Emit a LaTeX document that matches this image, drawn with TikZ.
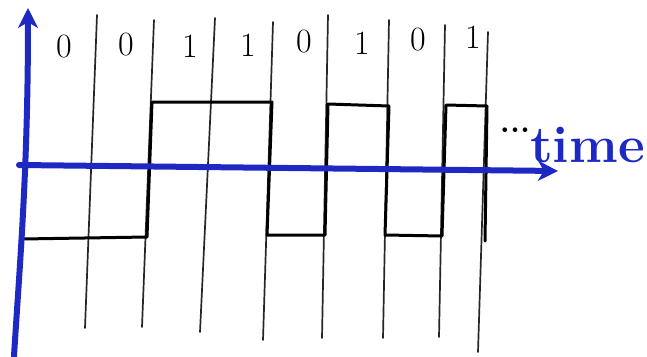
\documentclass[tikz,border=0pt]{standalone}
\usetikzlibrary{arrows.meta}
\definecolor{pen}{RGB}{30,40,195}
\begin{document}
\begin{tikzpicture}[x=1pt,y=-1pt,
  axis/.style={line width=6pt, draw=pen, line cap=round, -{Stealth[length=20pt,width=20pt,inset=6pt]}},
  gridline/.style={line width=1.7pt, draw=black!85, line cap=round},
  wave/.style={line width=3pt, draw=black, line join=round, line cap=round},
  bit/.style={font=\fontsize{34}{34}\selectfont, inner sep=0pt},
  lbl/.style={inner sep=0pt, text=pen, font=\fontsize{52}{52}\selectfont\bfseries},
]
\useasboundingbox (0,0) rectangle (647,356);
% grid lines
\foreach \i/\xt/\yt/\xb/\yb in {1/97/15/85/328, 2/154/20/142/327, 3/215/18/200/332, 4/273/22/263/340,
  5/328/15/322/338, 6/389/20/383/338, 7/445/25/439/337, 8/488/32/478/352}{
  \coordinate (t\i) at (\xt,\yt);
  \coordinate (b\i) at (\xb,\yb);
  \draw[gridline] (t\i) -- (b\i);
}
% waveform
\coordinate (w0) at (22,239);
\coordinate (w1) at (147,237);
\coordinate (w2) at (152,102);
\coordinate (w3) at (272,102);
\coordinate (w4) at (267,235);
\coordinate (w5) at (325,235);
\coordinate (w6) at (328,104);
\coordinate (w7) at (389,106);
\coordinate (w8) at (385,235);
\coordinate (w9) at (442,236);
\coordinate (w10) at (446,105);
\coordinate (w11) at (487,106);
\coordinate (w12) at (485,241);
\draw[wave] (w0) -- (w1) -- (w2) -- (w3) -- (w4) -- (w5) -- (w6) -- (w7) -- (w8) -- (w9) -- (w10) -- (w11) -- (w12);
% bits
\node[bit] (d1) at (64,47) {0};
\node[bit] (d2) at (126,45) {0};
\node[bit] (d3) at (190,46) {1};
\node[bit] (d4) at (248,45) {1};
\node[bit] (d5) at (304,42) {0};
\node[bit] (d6) at (362,43) {1};
\node[bit] (d7) at (418,40) {0};
\node[bit] (d8) at (473,37) {1};
% axes
\coordinate (yb) at (14,356);
\coordinate (ym) at (23,220);
\coordinate (yt) at (28,8);
\coordinate (xo) at (19,165);
\coordinate (xe) at (558,171);
\draw[axis] (yb) .. controls (20,260) and (28,170) .. (yt);
\draw[axis] (xo) -- (xe);
\node[inner sep=0pt, anchor=base, font=\fontsize{32}{32}\selectfont\bfseries] (dots) at (515,132) {...};
\node[lbl, anchor=base west] (time) at (530,162) {time};
\end{tikzpicture}
\end{document}
